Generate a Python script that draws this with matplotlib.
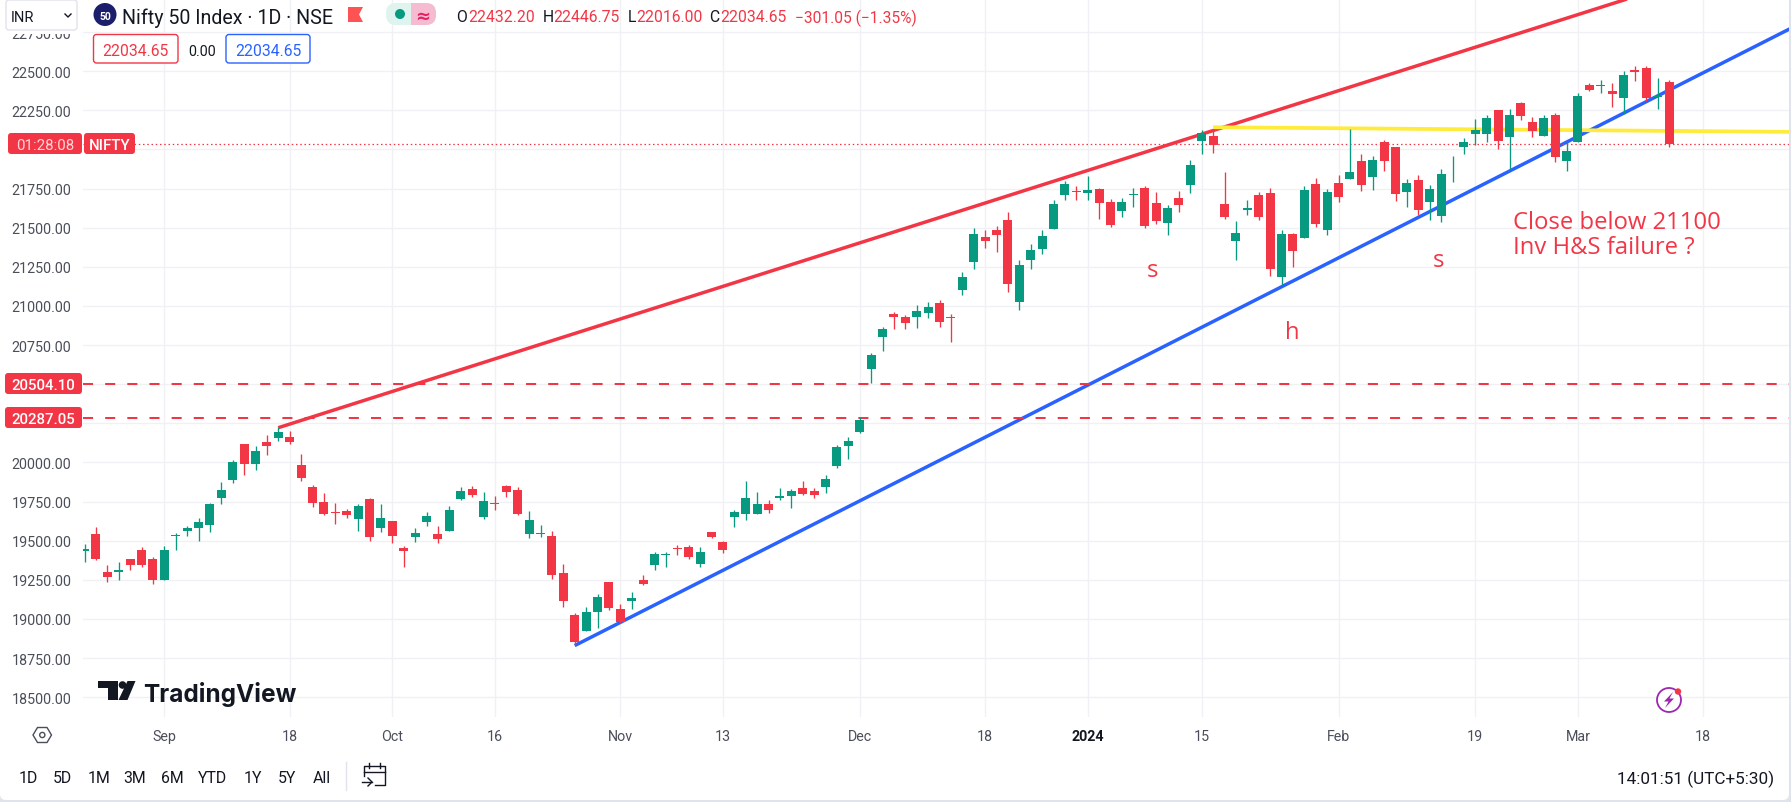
import matplotlib
matplotlib.use('Agg')
import matplotlib.pyplot as plt
from matplotlib.patches import Circle, FancyBboxPatch, Polygon, Rectangle

W, H = 1791, 803

highs = [19476, 19585, 19342, 19367, 19380, 19457, 19393, 19464, 19547, 19592,
         19643, 19739, 19874, 20015, 20118, 20105, 20175, 20227, 20201, 20053,
         19855, 19803, 19739, 19701, 19733, 19771, 19733, 19624, 19464, 19579,
         19682, 19592, 19720, 19842, 19848, 19810, 19784, 19855, 19842, 19688,
         19598, 19560, 19348, 19040, 19079, 19162, 19233, 19098, 19175, 19278,
         19425, 19425, 19470, 19470, 19457, 19553, 19496, 19694, 19880, 19810,
         19759, 19835, 19829, 19880, 19835, 19919, 20111, 20162, 20291, 20701,
         20868, 20964, 20945, 21009, 21028, 21041, 20951, 21214, 21496, 21483,
         21509, 21598, 21291, 21393, 21483, 21680, 21801, 21769, 21833, 21756,
         21682, 21688, 21752, 21765, 21726, 21643, 21733, 21932, 22124, 22130,
         21855, 21541, 21675, 21726, 21752, 21483, 21464, 21765, 21816, 21746,
         21835, 22130, 21970, 21957, 22060, 22015, 21810, 21835, 21771, 21874,
         21955, 22071, 22192, 22218, 22250, 22256, 22301, 22205, 22218, 22231,
         22045, 22359, 22423, 22442, 22423, 22500, 22532, 22532, 22455, 22446.75]
lows = [19367, 19374, 19233, 19252, 19310, 19335, 19226, 19252, 19438, 19528,
        19496, 19553, 19733, 19868, 19919, 19951, 20047, 20137, 20118, 19880,
        19714, 19662, 19605, 19643, 19560, 19496, 19553, 19483, 19335, 19489,
        19592, 19483, 19560, 19759, 19778, 19637, 19694, 19778, 19662, 19515,
        19521, 19258, 19079, 18835, 18925, 18944, 19060, 18976, 19066, 19214,
        19310, 19329, 19406, 19380, 19329, 19515, 19419, 19585, 19630, 19669,
        19675, 19759, 19707, 19791, 19771, 19803, 19964, 20021, 20188, 20509,
        20714, 20855, 20855, 20861, 20925, 20868, 20771, 21073, 21239, 21368,
        21342, 21092, 20977, 21233, 21329, 21494, 21680, 21680, 21680, 21558,
        21502, 21566, 21630, 21496, 21521, 21451, 21598, 21720, 21970, 21977,
        21553, 21291, 21579, 21547, 21194, 21137, 21246, 21432, 21502, 21451,
        21662, 21810, 21733, 21739, 21861, 21669, 21630, 21579, 21547, 21534,
        21795, 21968, 22026, 22045, 22000, 21878, 22186, 22077, 22083, 21917,
        21865, 22045, 22372, 22359, 22269, 22224, 22436, 22308, 22256, 22016]
opens = [19436, 19541, 19297, 19297, 19380, 19438, 19380, 19252, 19528, 19560,
         19579, 19598, 19771, 19887, 20118, 19989, 20130, 20156, 20162, 19983,
         19842, 19746, 19682, 19688, 19637, 19765, 19579, 19624, 19451, 19521,
         19617, 19541, 19560, 19765, 19829, 19650, 19739, 19848, 19823, 19541,
         19541, 19528, 19291, 19028, 18925, 19047, 19233, 19066, 19117, 19246,
         19342, 19406, 19451, 19457, 19348, 19553, 19489, 19650, 19669, 19669,
         19733, 19771, 19784, 19835, 19816, 19842, 19976, 20105, 20194, 20598,
         20803, 20951, 20932, 20932, 20957, 21021, 20932, 21105, 21284, 21438,
         21483, 21547, 21028, 21291, 21361, 21494, 21712, 21737, 21724, 21750,
         21662, 21605, 21707, 21752, 21656, 21528, 21688, 21771, 22053, 22086,
         21650, 21412, 21611, 21707, 21720, 21182, 21457, 21432, 21778, 21483,
         21784, 21810, 21925, 21823, 22047, 22015, 21726, 21803, 21662, 21573,
         21904, 22013, 22096, 22096, 22250, 22077, 22295, 22173, 22083, 22218,
         21929, 22045, 22410, 22404, 22372, 22327, 22506, 22519, 22333, 22432.20]
closes = [19445, 19380, 19265, 19310, 19342, 19342, 19252, 19438, 19534, 19579,
          19617, 19733, 19823, 20002, 19989, 20073, 20105, 20194, 20130, 19900,
          19739, 19669, 19675, 19662, 19720, 19521, 19643, 19528, 19432, 19547,
          19656, 19508, 19694, 19816, 19791, 19752, 19733, 19810, 19669, 19630,
          19547, 19278, 19117, 18855, 19047, 19143, 19073, 18983, 19137, 19226,
          19412, 19412, 19444, 19393, 19425, 19521, 19438, 19682, 19771, 19733,
          19694, 19784, 19816, 19797, 19791, 19893, 20098, 20137, 20271, 20688,
          20855, 20932, 20893, 20970, 20996, 20900, 20925, 21182, 21457, 21412,
          21451, 21143, 21259, 21355, 21445, 21654, 21782, 21731, 21744, 21660,
          21515, 21662, 21714, 21509, 21541, 21624, 21643, 21900, 22105, 22028,
          21566, 21464, 21624, 21566, 21233, 21457, 21348, 21739, 21521, 21726,
          21694, 21855, 21771, 21932, 21925, 21714, 21784, 21611, 21746, 21842,
          21910, 22045, 22122, 22199, 22051, 22218, 22212, 22115, 22199, 21949,
          21987, 22340, 22378, 22410, 22353, 22474, 22494, 22327, 22340, 22034.65]

price_ticks = [22750, 22500, 22250, 22000, 21750, 21500, 21250, 21000, 20750,
               20500, 20250, 20000, 19750, 19500, 19250, 19000, 18750, 18500]
# these three sit behind the price tags in the reference
hidden_ticks = [22000, 20500, 20250]
date_ticks = [7, 18, 27, 36, 47, 56, 68, 79, 88, 98, 110, 122, 131, 142]
date_labels = ['Sep', '18', 'Oct', '16', 'Nov', '13', 'Dec', '18', '2024',
               '15', 'Feb', '19', 'Mar', '18']

red_line_x, red_line_y = [17, 140], [20222, 23070]
blue_line_x, blue_line_y = [43, 150], [18830, 22786]
yellow_line_x, yellow_line_y = [99, 150], [22142, 22112]
levels = [20504.10, 20287.05]
last_close = 22034.65

RED = '#f23645'
GREEN = '#089981'
BLUE = '#2962ff'
YELLOW = '#ffeb3b'
GRID = '#f0f1f4'
TEXT = '#131722'
TICK = '#4a4e59'

plt.rcParams['font.family'] = ['Roboto', 'DejaVu Sans']
plt.rcParams['axes.unicode_minus'] = False

fig = plt.figure(figsize=(W / 100, H / 100), dpi=100, facecolor='#e0e3eb')


def pixel_axes(zorder):
    a = fig.add_axes([0, 0, 1, 1], zorder=zorder)
    a.set_xlim(0, W)
    a.set_ylim(H, 0)
    a.axis('off')
    return a


# white page with the rounded corner, under everything
bg = pixel_axes(0)
bg.add_patch(FancyBboxPatch((0, -20), 1789, 821, boxstyle='round,pad=0,rounding_size=6',
                            fc='white', ec='none'))

# chart pane, x is candle number and y is price
ax = fig.add_axes([83 / W, 1 - 718 / H, (1789 - 83) / W, 718 / H], zorder=1)
ax.patch.set_alpha(0)
ax.set_xlim((83 - 84.5) / 11.4, (1789 - 84.5) / 11.4)
ax.set_ylim(22500 - (718 - 72.2) * 6.3898, 22500 + 72.2 * 6.3898)
for s in ax.spines.values():
    s.set_visible(False)
ax.set_yticks(price_ticks)
ax.set_yticklabels(['' if p in hidden_ticks else '%.2f' % p for p in price_ticks], fontsize=10.3, color=TICK)
ax.set_xticks(date_ticks)
ax.set_xticklabels(date_labels, fontsize=10.3, color=TICK)
ax.tick_params(axis='y', length=0, pad=8.2)
ax.tick_params(axis='x', length=0, pad=8.5)
ax.get_xticklabels()[8].set_fontweight('bold')
ax.get_xticklabels()[8].set_color(TEXT)
ax.grid(True, color=GRID, lw=1)
ax.set_axisbelow(True)

# trend lines and levels
ax.plot(red_line_x, red_line_y, color=RED, lw=2.5, zorder=2, solid_capstyle='butt')
ax.plot(blue_line_x, blue_line_y, color=BLUE, lw=2.5, zorder=2, solid_capstyle='butt')
ax.plot(yellow_line_x, yellow_line_y, color=YELLOW, lw=2.7, zorder=2, solid_capstyle='butt')
for level in levels:
    ax.axhline(level, color=RED, lw=1.45, linestyle=(0, (5, 6)), dash_capstyle='butt', zorder=2)
ax.axhline(last_close, color=RED, lw=0.9, linestyle=(0, (1.2, 2.2)), zorder=2)

# candles
idx = list(range(len(closes)))
colors = [GREEN if c >= o else RED for o, c in zip(opens, closes)]
ax.vlines(idx, lows, highs, colors=colors, lw=0.95, zorder=3)
ax.bar(idx, [abs(c - o) for o, c in zip(opens, closes)], bottom=[min(o, c) for o, c in zip(opens, closes)],
       width=0.79, color=colors, zorder=4, linewidth=0)

# everything that sits on top of the chart, in screen pixels
ov = pixel_axes(2)
ov.patch.set_alpha(0)
ov.add_patch(Rectangle((0, 0), 83, 35, fc='white', ec='none'))


def box(x0, y0, x1, y1, fc='white', ec='none', lw=1.0, r=3):
    ov.add_patch(FancyBboxPatch((x0, y0), x1 - x0, y1 - y0, boxstyle='round,pad=0,rounding_size=%g' % r,
                                fc=fc, ec=ec, lw=lw))


def txt(x, y, s, size=10.3, color=TEXT, ha='left', **kw):
    return ov.text(x, y, s, fontsize=size, color=color, ha=ha, va='center_baseline', **kw)


# header
box(6, 1, 77, 31, ec='#e0e3eb')
txt(11, 16, 'INR', size=10.5)
ov.plot([65, 68, 71], [15, 18, 15], color=TEXT, lw=1)
ov.add_patch(Circle((105, 15.5), 11.5, fc='#1b1f6b', ec='none'))
txt(105, 16, '50', size=7.5, color='white', ha='center', fontweight='bold')
txt(122, 16, 'Nifty 50 Index · 1D · NSE', size=14.1)
ov.add_patch(Polygon([(348, 8), (363, 8), (359, 15.5), (363, 23), (348, 23)], fc='#ff5252', ec='none'))
box(386, 4, 436, 26, fc='#dff3ef', r=10)
ov.add_patch(Rectangle((411, 4), 15, 22, fc='#f5bbd0', ec='none'))
box(418, 4, 436, 26, fc='#f5bbd0', r=10)
ov.add_patch(Circle((400, 15), 5, fc=GREEN, ec='none'))
txt(423, 15, '≈', size=13, color='#e91e63', ha='center', fontweight='bold', family=['DejaVu Sans'])
for x, letter, xv, value in [(456.5, 'O', 468.3, '22432.20'), (542.3, 'H', 553, '22446.75'),
                             (627.3, 'L', 636.7, '22016.00'), (709.3, 'C', 720.7, '22034.65')]:
    txt(x, 16, letter, size=11.3, color=TEXT)
    txt(xv, 16, value, size=11.3, color=RED)
txt(795, 16, '−301.05 (−1.35%)', size=11.2, color=RED)

# price boxes under the header
box(93.5, 35.5, 178, 64, ec=RED)
txt(135.7, 50, '22034.65', size=11.3, color=RED, ha='center')
txt(201.7, 50, '0.00', size=10.3, ha='center')
box(226, 35.5, 310, 64, ec=BLUE)
txt(268, 50, '22034.65', size=11.3, color=BLUE, ha='center')

# price tags on the axis
box(8, 134, 82, 155, fc=RED)
txt(45, 145, '01:28:08', size=10.8, color='#ffd5d9', ha='center')
box(84, 134, 135, 155, fc=RED)
txt(109.5, 145, 'NIFTY', size=10.8, color='white', ha='center', fontweight='medium')
box(5, 374, 82, 395, fc=RED)
txt(43.5, 385, '20504.10', size=10.8, color='white', ha='center', fontweight='medium')
box(5, 408, 82, 429, fc=RED)
txt(43.5, 419, '20287.05', size=10.8, color='white', ha='center', fontweight='medium')

# notes drawn on the chart
txt(1513, 220, 'Close below 21100', size=17.2, color=RED, family=['Open Sans'])
txt(1513, 245, 'Inv H&S failure ?', size=17.2, color=RED, family=['Open Sans'])
txt(1153, 268, 's', size=17.2, color=RED, ha='center', family=['Open Sans'])
txt(1439, 258, 's', size=17.2, color=RED, ha='center', family=['Open Sans'])
txt(1292, 330, 'h', size=17.2, color=RED, ha='center', family=['Open Sans'])

# TradingView logo
ov.add_patch(Polygon([(98, 682), (117.5, 682), (117.5, 701), (107.5, 701), (107.5, 689), (98, 689)],
                     fc=TEXT, ec='none'))
ov.add_patch(Circle((122.5, 686), 3.8, fc=TEXT, ec='none'))
ov.add_patch(Polygon([(127.5, 682), (135.5, 682), (127.5, 701), (118.5, 701)], fc=TEXT, ec='none'))
txt(143, 692, 'TradingView', size=17.6, family=['Inter'], fontweight='bold')

# lightning badge
ov.add_patch(Circle((1669, 701), 12, fc='white', ec='#9c27b0', lw=1.3))
ov.add_patch(Polygon([(1673, 693), (1664, 702.5), (1668.5, 702.5), (1665, 709), (1674, 699.5), (1669.5, 699.5)],
                     fc='#9c27b0', ec='none'))
ov.add_patch(Circle((1678, 692.5), 3.2, fc='#f23645', ec='none'))

# settings hexagon on the time axis
ov.add_patch(Polygon([(33, 736), (37.5, 728.5), (47, 728.5), (51.5, 736), (47, 743.5), (37.5, 743.5)],
                     fc='none', ec=TICK, lw=1))
ov.add_patch(Circle((42.3, 736), 2.6, fc='none', ec=TICK, lw=1))

# range buttons
for x, s in [(28, '1D'), (62.5, '5D'), (99, '1M'), (135, '3M'), (172, '6M'), (213, 'YTD'),
             (253, '1Y'), (287, '5Y'), (322, 'All')]:
    txt(x, 777, s, size=11.4, ha='center')
ov.plot([345.5, 345.5], [763, 791], color='#e0e3eb', lw=1)
ov.plot([364, 364, 385, 385, 375], [777, 767, 767, 786, 786], color=TEXT, lw=1)
ov.plot([364, 385], [773, 773], color=TEXT, lw=1)
ov.plot([369, 369], [764, 769], color=TEXT, lw=1)
ov.plot([380, 380], [764, 769], color=TEXT, lw=1)
ov.plot([362, 372], [783, 783], color=TEXT, lw=1)
ov.plot([368, 372, 368], [779, 783, 787], color=TEXT, lw=1)
txt(1774, 777, '14:01:51 (UTC+5:30)', size=12.3, ha='right')

fig.savefig('out.png', dpi=100, facecolor=fig.get_facecolor())
